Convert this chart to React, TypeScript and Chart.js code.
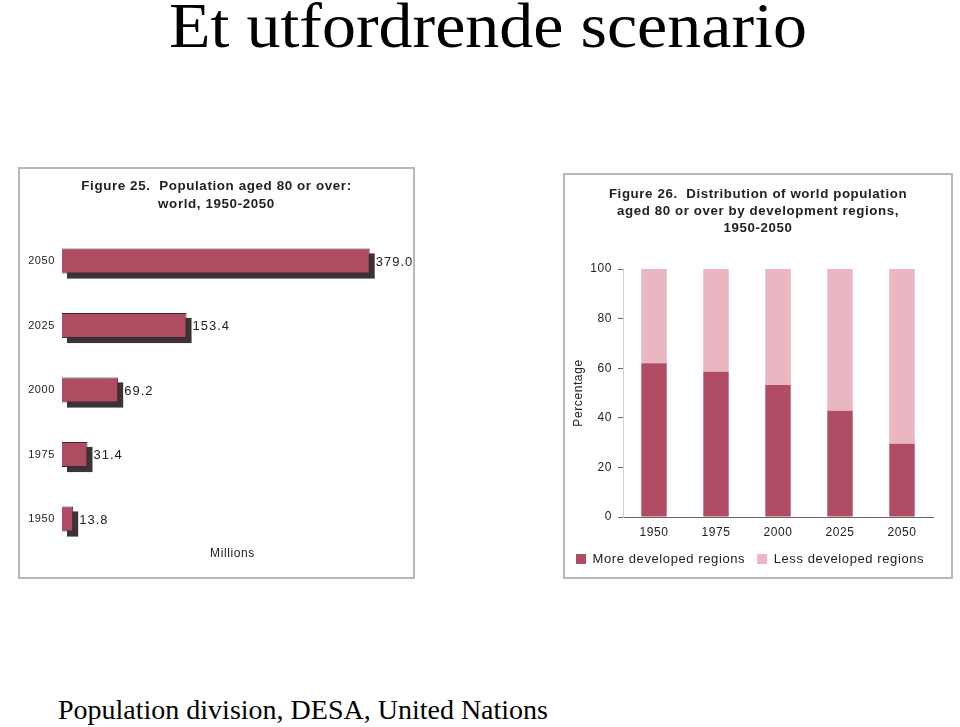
import React, { useEffect, useRef } from 'react';
import { Chart, registerables } from 'chart.js';

Chart.register(...registerables);

// ---- Data ----
const popYears = ['2050', '2025', '2000', '1975', '1950'];
const popMillions = [379.0, 153.4, 69.2, 31.4, 13.8];

const distYears = ['1950', '1975', '2000', '2025', '2050'];
const moreDeveloped = [62.0, 58.6, 53.2, 42.8, 29.5];
const lessDeveloped = [38.0, 41.4, 46.8, 57.2, 70.5];

const leftTitle = ['Figure 25.  Population aged 80 or over:', 'world, 1950-2050'];
const rightTitle = [
  'Figure 26.  Distribution of world population',
  'aged 80 or over by development regions,',
  '1950-2050',
];

const SANS = "'Liberation Sans', Arial, sans-serif";
const SERIF = "'Liberation Serif', 'Times New Roman', serif";

const spacingPlugin = {
  id: 'letterSpacing',
  beforeLayout(chart: any) {
    (chart.ctx as any).letterSpacing = '0.6px';
  },
  beforeDraw(chart: any) {
    (chart.ctx as any).letterSpacing = '0.6px';
  },
};

const shadowPlugin = {
  id: 'barShadow',
  beforeDatasetsDraw(chart: any) {
    const ctx = chart.ctx;
    const meta = chart.getDatasetMeta(0);
    ctx.save();
    ctx.fillStyle = '#3b3335';
    meta.data.forEach((bar: any) => {
      const p = bar.getProps(['x', 'y', 'base', 'height'], true);
      ctx.fillRect(p.base + 5, p.y - p.height / 2 + 5, p.x - p.base, p.height);
    });
    ctx.restore();
  },
  afterDatasetsDraw(chart: any) {
    const ctx = chart.ctx;
    const meta = chart.getDatasetMeta(0);
    const values = chart.data.datasets[0].data as number[];
    ctx.save();
    ctx.letterSpacing = '1px';
    ctx.fillStyle = '#222';
    ctx.font = `13px ${SANS}`;
    ctx.textAlign = 'left';
    ctx.textBaseline = 'middle';
    meta.data.forEach((bar: any, i: number) => {
      const p = bar.getProps(['x', 'y'], true);
      ctx.fillText(values[i].toFixed(1), p.x + 6, p.y + 1);
    });
    ctx.restore();
  },
};

// invisible spacer axis that keeps the plot away from the right edge
const spacerAxis = (w: number, axis: 'x' | 'y') => ({
  type: 'linear',
  axis,
  position: 'right',
  display: true,
  ticks: { display: false },
  grid: { display: false, drawTicks: false },
  border: { display: false },
  afterFit: (s: any) => {
    s.width = w;
  },
});

function LeftChart() {
  const ref = useRef<HTMLCanvasElement>(null);
  useEffect(() => {
    const chart = new Chart(ref.current as HTMLCanvasElement, {
      type: 'bar',
      data: {
        labels: popYears,
        datasets: [
          {
            data: popMillions,
            backgroundColor: '#b04c62',
            borderColor: '#3a2a2e',
            borderWidth: 1,
            barPercentage: 0.39,
            categoryPercentage: 1,
            clip: false as any,
          },
        ],
      },
      options: {
        indexAxis: 'y',
        animation: false,
        responsive: false,
        maintainAspectRatio: false,
        layout: { padding: 0 },
        plugins: {
          legend: { display: false },
          tooltip: { enabled: false },
          title: {
            display: true,
            text: leftTitle,
            color: '#222',
            font: { family: SANS, size: 13.4, weight: 'bold', lineHeight: 18 / 13.4 },
            padding: { top: 9.5, bottom: 47.5 },
          },
        },
        scales: {
          x: {
            min: 0,
            max: 420,
            ticks: { display: false },
            grid: { display: false, drawTicks: false },
            border: { display: false },
            title: {
              display: true,
              text: 'Millions',
              color: '#222',
              font: { family: SANS, size: 12 },
              padding: { top: 0, bottom: 17 },
            },
            afterFit: (s: any) => {
              s.height = 59;
            },
          },
          y: {
            offset: false,
            ticks: { padding: 7, color: '#222', font: { family: SANS, size: 11 } },
            grid: { display: false, drawTicks: false },
            border: { display: false },
            afterFit: (s: any) => {
              s.width = 43;
            },
          },
          spacer: spacerAxis(11, 'y'),
        },
      },
      plugins: [spacingPlugin, shadowPlugin],
    } as any);
    return () => chart.destroy();
  }, []);
  return (
    <canvas
      ref={ref}
      width={395}
      height={410}
      style={{ position: 'absolute', left: 19, top: 168, width: 395, height: 410 }}
    />
  );
}

function RightChart() {
  const ref = useRef<HTMLCanvasElement>(null);
  useEffect(() => {
    const chart = new Chart(ref.current as HTMLCanvasElement, {
      type: 'bar',
      data: {
        labels: distYears,
        datasets: [
          {
            label: 'More developed regions',
            data: moreDeveloped,
            backgroundColor: '#b04c63',
            borderWidth: 0,
            barPercentage: 0.41,
            categoryPercentage: 1,
          },
          {
            label: 'Less developed regions',
            data: lessDeveloped,
            backgroundColor: '#e9b6c2',
            borderWidth: 0,
            barPercentage: 0.41,
            categoryPercentage: 1,
          },
        ],
      },
      options: {
        animation: false,
        responsive: false,
        maintainAspectRatio: false,
        layout: { padding: { left: 0, right: 0, top: 0, bottom: 2.5 } },
        plugins: {
          tooltip: { enabled: false },
          title: {
            display: true,
            text: rightTitle,
            color: '#222',
            font: { family: SANS, size: 13.3, weight: 'bold', lineHeight: 17 / 13.3 },
            padding: { top: 11.5, bottom: 32.5 },
          },
          legend: {
            display: true,
            position: 'bottom',
            align: 'start',
            labels: {
              boxWidth: 10,
              boxHeight: 10,
              padding: 12,
              color: '#222',
              font: { family: SANS, size: 13 },
            },
          },
        },
        scales: {
          x: {
            stacked: true,
            ticks: { padding: 8.8, color: '#222', font: { family: SANS, size: 12 } },
            grid: { display: false, drawTicks: false },
            border: { display: true, color: '#666', width: 1 },
            afterFit: (s: any) => {
              s.height = 23.5;
            },
          },
          y: {
            stacked: true,
            min: 0,
            max: 100,
            ticks: { stepSize: 20, padding: 6, color: '#222', font: { family: SANS, size: 12 } },
            grid: {
              display: true,
              drawOnChartArea: false,
              drawTicks: true,
              tickLength: 5,
              tickColor: '#666',
            },
            border: { display: true, color: '#d0d0d0', width: 1 },
            title: {
              display: true,
              text: 'Percentage',
              color: '#222',
              font: { family: SANS, size: 12 },
              padding: { top: 7, bottom: 0 },
            },
            afterFit: (s: any) => {
              s.width = 59;
            },
          },
          spacer: spacerAxis(19, 'y'),
        },
      },
      plugins: [spacingPlugin],
    } as any);
    return () => chart.destroy();
  }, []);
  return (
    <canvas
      ref={ref}
      width={388}
      height={404}
      style={{ position: 'absolute', left: 564, top: 174, width: 388, height: 404 }}
    />
  );
}

export default function App() {
  useEffect(() => {
    document.body.style.margin = '0';
    document.body.style.background = '#ffffff';
  }, []);
  return (
    <div style={{ position: 'absolute', left: 0, top: 0, width: 960, height: 727, overflow: 'hidden', background: '#fff' }}>
      <div
        style={{
          position: 'absolute',
          left: 8,
          top: -6,
          width: 960,
          textAlign: 'center',
          fontFamily: SERIF,
          fontSize: 64,
          lineHeight: 1,
          color: '#000',
          whiteSpace: 'nowrap',
          transform: 'scaleX(1.062)',
          transformOrigin: '480px 0',
        }}
      >
        Et utfordrende scenario
      </div>
      <div
        style={{
          position: 'absolute',
          left: 18,
          top: 167,
          width: 397,
          height: 412,
          boxSizing: 'border-box',
          border: '2px solid #b8b8b8',
        }}
      />
      <div
        style={{
          position: 'absolute',
          left: 563,
          top: 173,
          width: 390,
          height: 406,
          boxSizing: 'border-box',
          border: '2px solid #b8b8b8',
        }}
      />
      <LeftChart />
      <RightChart />
      <div
        style={{
          position: 'absolute',
          left: 58,
          top: 696,
          fontFamily: SERIF,
          fontSize: 28,
          lineHeight: 1,
          color: '#000',
          whiteSpace: 'nowrap',
        }}
      >
        Population division, DESA, United Nations
      </div>
    </div>
  );
}
